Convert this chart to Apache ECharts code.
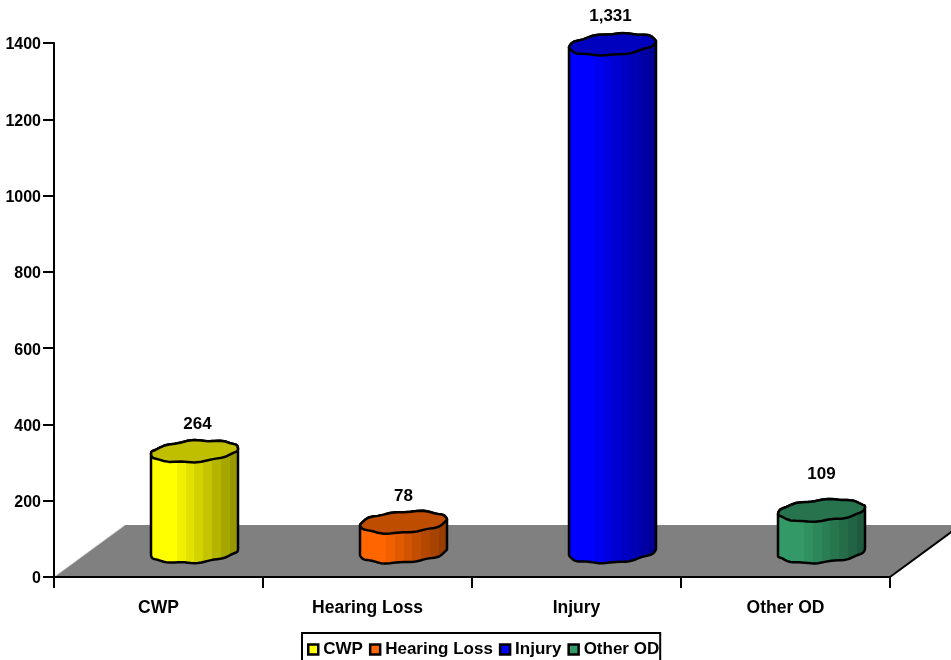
<!DOCTYPE html>
<html>
<head>
<meta charset="utf-8">
<style>html,body{margin:0;padding:0;background:#fff;overflow:hidden}#c{width:951px;height:660px}</style>
<script src="https://cdn.jsdelivr.net/npm/echarts@6/dist/echarts.min.js"></script>
</head>
<body>
<div id="c"></div>
<script>
const categories = ['CWP', 'Hearing Loss', 'Injury', 'Other OD'];
const values = [264, 78, 1331, 109];
const bodyColors = [[255,255,0],[255,102,0],[0,0,255],[51,153,102]];
const seeds = [0.4, 2.1, 3.7, 5.2];
const labelNudge = [[3,0],[0,1],[-2,-1],[0,-9]];

const FF = '"Liberation Sans", Arial, sans-serif';
const FONT = 'bold 17px ' + FF;
const depthX = 71, depthY = 52;
const rx = 43.5, ry = 10.5, skew = 3;

function rgb(c, k){ return 'rgb(' + c.map(v => Math.round(v * k)).join(',') + ')'; }
function bandedGradient(c){
  const stops = [], n = 10;
  for (let i = 0; i < n; i++) {
    const p = i / n;
    const k = p < 0.2 ? 1 : 1 - (p - 0.2) * 0.58;
    stops.push({offset: i / n, color: rgb(c, k)}, {offset: (i + 1) / n, color: rgb(c, k)});
  }
  return {type: 'linear', x: 0, y: 0, x2: 1, y2: 0, colorStops: stops};
}
function rim(cx, cy, t, seed){
  return [
    cx + rx * Math.cos(t),
    cy + ry * Math.sin(t) - skew * Math.cos(t) + 0.55 * Math.sin(9 * t + seed) + 0.3 * Math.sin(5 * t + seed * 2)
  ];
}
function arc(cx, cy, a, b, seed){
  const pts = [], n = 40;
  for (let i = 0; i <= n; i++) pts.push(rim(cx, cy, a + (b - a) * i / n, seed));
  return pts;
}
function cylinder(idx){
  return function(params, api){
    const base = api.coord([api.value(0), 0]);
    const top = api.coord([api.value(0), api.value(1)]);
    const cx = base[0] + depthX / 2 + 0.5;
    const off = depthY / 2 - 1;
    const by = base[1] - off, ty = top[1] - off;
    const body = arc(cx, by, 0, Math.PI, seeds[idx]).concat(arc(cx, ty, Math.PI, 2 * Math.PI, seeds[idx]));
    const lid = arc(cx, ty, 0, 2 * Math.PI, seeds[idx]);
    const c = bodyColors[idx];
    const n = labelNudge[idx];
    return {
      type: 'group',
      children: [
        {type: 'polygon', shape: {points: body}, style: {fill: bandedGradient(c), stroke: '#000', lineWidth: 2.5, lineJoin: 'round'}},
        {type: 'polygon', shape: {points: lid}, style: {fill: rgb(c, 0.75), stroke: '#000', lineWidth: 2.5, lineJoin: 'round'}},
        {type: 'text', style: {text: api.value(1).toLocaleString('en-US'), x: cx + n[0], y: ty - 27 + n[1], align: 'center', verticalAlign: 'middle', font: FONT, fill: '#000'}}
      ]
    };
  };
}
function floor(params){
  const g = params.coordSys;
  const l = g.x, r = g.x + g.width, b = g.y + g.height;
  return {
    type: 'group',
    children: [
      {type: 'polygon', shape: {points: [[l,b],[l+depthX,b-depthY],[r+depthX,b-depthY],[r,b]]}, style: {fill: '#808080'}},
      {type: 'line', shape: {x1: l, y1: b, x2: l+depthX, y2: b-depthY}, style: {stroke: '#d8d8d8', lineWidth: 1}},
      {type: 'line', shape: {x1: r, y1: b, x2: r+depthX, y2: b-depthY}, style: {stroke: '#000', lineWidth: 2}}
    ]
  };
}

const series = [{
  type: 'custom', name: 'floor', z: 0, silent: true, renderItem: floor,
  data: [[categories[0], 0]], encode: {x: 0, y: 1}
}].concat(categories.map((name, i) => ({
  type: 'custom', name, z: 2, silent: true, renderItem: cylinder(i),
  itemStyle: {color: rgb(bodyColors[i], 1)},
  data: [[name, values[i]]], encode: {x: 0, y: 1}
})));

const chart = echarts.init(document.getElementById('c'), null, {renderer: 'canvas'});
chart.setOption({
  animation: false,
  backgroundColor: '#fff',
  textStyle: {fontFamily: FF},
  grid: {left: 54, right: 61, top: 43, bottom: 83, outerBoundsMode: 'none'},
  xAxis: {
    type: 'category', data: categories, z: 1,
    axisLine: {onZero: false, lineStyle: {color: '#000', width: 2}},
    axisTick: {show: true, alignWithLabel: false, length: 11, lineStyle: {color: '#000', width: 2}},
    axisLabel: {color: '#000', fontWeight: 'bold', fontSize: 17.5, margin: 22, interval: 0, fontFamily: FF},
    splitLine: {show: false}
  },
  yAxis: {
    type: 'value', min: 0, max: 1400, interval: 200, z: 1,
    axisLine: {show: true, lineStyle: {color: '#000', width: 2}},
    axisTick: {show: true, length: 11, lineStyle: {color: '#000', width: 2}},
    axisLabel: {
      margin: 13, formatter: v => '{n|' + v + '}',
      rich: {n: {color: '#000', fontWeight: 'bold', fontSize: 16, fontFamily: FF, padding: [4, 0, 0, 0]}}
    },
    splitLine: {show: false}
  },
  legend: {
    data: categories, left: 302, top: 633, orient: 'horizontal',
    itemWidth: 10, itemHeight: 10, itemGap: 6, icon: 'rect',
    padding: [8, 1, 12, 5], borderColor: '#000', borderWidth: 2, backgroundColor: '#fff',
    selectedMode: false,
    itemStyle: {borderColor: '#000', borderWidth: 2.5},
    textStyle: {color: '#000', fontWeight: 'bold', fontSize: 17, fontFamily: FF}
  },
  series
});
</script>
</body>
</html>
